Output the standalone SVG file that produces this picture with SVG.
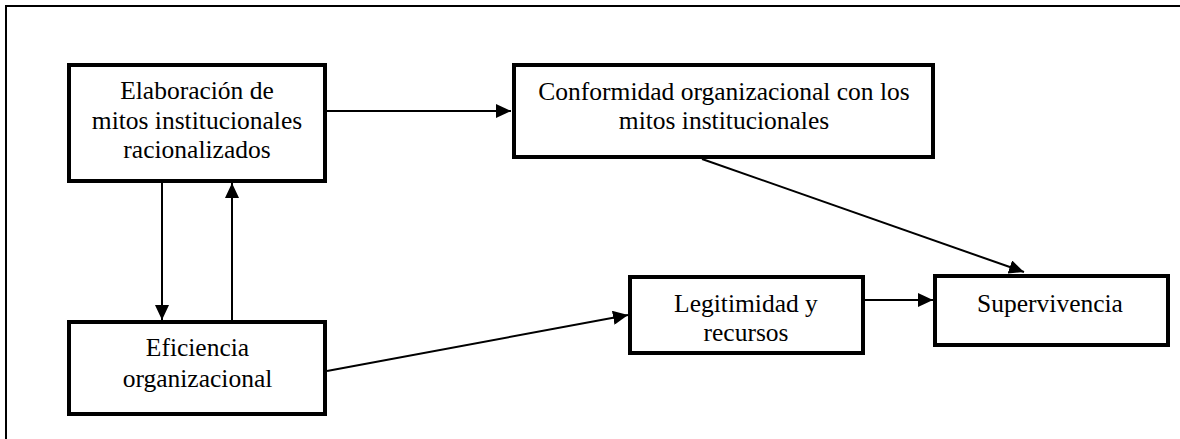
<svg xmlns="http://www.w3.org/2000/svg" width="1180" height="439" viewBox="0 0 1180 439">
<defs>
<style>
.box{fill:#fff;stroke:#000;stroke-width:4}
.lbl{font-family:"Liberation Serif","Times New Roman",serif;font-size:25.5px;fill:#000;text-anchor:middle}
.con{fill:none;stroke:#000;stroke-width:2}
</style>
<marker id="ah" viewBox="0 0 15 14" refX="15" refY="7" markerWidth="15" markerHeight="14" markerUnits="userSpaceOnUse" orient="auto">
<path d="M0,0 L15,7 L0,14 Z" fill="#000"/>
</marker>
</defs>
<rect width="1180" height="439" fill="#fff"/>
<path d="M6,439 V6 H1180" fill="none" stroke="#000" stroke-width="2"/>
<g id="connectors">
<line class="con" x1="327" y1="111" x2="511" y2="111" marker-end="url(#ah)"/>
<line class="con" x1="162" y1="183" x2="162" y2="320" marker-end="url(#ah)"/>
<line class="con" x1="232" y1="320" x2="232" y2="183" marker-end="url(#ah)"/>
<line class="con" x1="702" y1="159" x2="1024" y2="272" marker-end="url(#ah)"/>
<line class="con" x1="327" y1="371" x2="628" y2="315" marker-end="url(#ah)"/>
<line class="con" x1="865" y1="300" x2="933" y2="300" marker-end="url(#ah)"/>
</g>
<g id="n1">
<rect class="box" x="69" y="65" width="256" height="116"/>
<text class="lbl" x="197" y="99">Elaboración de</text>
<text class="lbl" x="197" y="128.5">mitos institucionales</text>
<text class="lbl" x="197" y="158">racionalizados</text>
</g>
<g id="n2">
<rect class="box" x="514" y="65" width="419" height="92"/>
<text class="lbl" x="724" y="99.5">Conformidad organizacional con los</text>
<text class="lbl" x="724" y="128.5">mitos institucionales</text>
</g>
<g id="n3">
<rect class="box" x="69" y="322" width="256" height="92"/>
<text class="lbl" x="197.5" y="356">Eficiencia</text>
<text class="lbl" x="197.5" y="386.5">organizacional</text>
</g>
<g id="n4">
<rect class="box" x="630" y="277" width="233" height="76"/>
<text class="lbl" x="746" y="311.5">Legitimidad y</text>
<text class="lbl" x="746" y="340.5">recursos</text>
</g>
<g id="n5">
<rect class="box" x="935" y="276" width="233" height="69"/>
<text class="lbl" x="1050" y="311.5">Supervivencia</text>
</g>
</svg>
